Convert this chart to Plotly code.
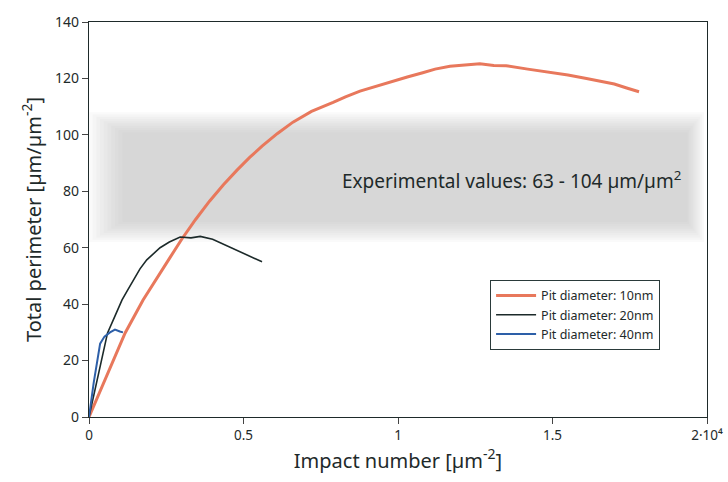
import plotly.graph_objects as go

# Data
x_10nm = [0, 0.06, 0.117, 0.175, 0.22, 0.262, 0.30, 0.345, 0.39, 0.435, 0.479, 0.52, 0.56, 0.61, 0.66, 0.72,
          0.79, 0.83, 0.877, 0.93, 0.984, 1.03, 1.08, 1.12, 1.168, 1.22, 1.265, 1.31, 1.35, 1.42, 1.49, 1.55,
          1.61, 1.66, 1.7, 1.74, 1.78]
y_10nm = [0, 15.5, 29.8, 41.5, 49.5, 56.5, 63, 70, 76.5, 82.3, 87.5, 92, 96, 100.5, 104.5, 108.3, 111.5, 113.5,
          115.5, 117.3, 119, 120.5, 122, 123.3, 124.3, 124.7, 125.2, 124.6, 124.5, 123.3, 122.3, 121.2, 120,
          119, 118, 116.6, 115.3]

x_20nm = [0, 0.03, 0.06, 0.085, 0.107, 0.125, 0.143, 0.165, 0.187, 0.21, 0.23, 0.26, 0.295, 0.33, 0.36,
          0.4, 0.43, 0.46, 0.5, 0.53, 0.56]
y_20nm = [0, 15, 29.8, 36, 41.5, 45, 48.6, 52.5, 55.7, 58, 60, 62, 63.8, 63.5, 64, 63, 61.5, 60, 58, 56.5, 55]

x_40nm = [0, 0.015, 0.036, 0.05, 0.068, 0.084, 0.1, 0.11]
y_40nm = [0, 12, 26, 28.5, 30, 31, 30.3, 30]

x_tickvals = [0, 0.5, 1, 1.5, 2]
x_ticktext = ["0", "0.5", "1", "1.5", "2·10⁴"]
y_tickvals = [0, 20, 40, 60, 80, 100, 120, 140]

band_low, band_high = 66, 104
band_label = "Experimental values: 63 - 104 µm/µm<sup>2</sup>"

FONT = "Noto Sans"
fig = go.Figure()

# soft grey band (many faint stacked rects for a blurred look)
n = 10
for i in range(n):
    d = 4 - i * 0.8
    fig.add_shape(type="rect", xref="x", yref="y",
                  x0=0.0 + i * 0.012, x1=1.99 - i * 0.006,
                  y0=band_low - d, y1=band_high + d,
                  fillcolor="#b8b8b8", opacity=0.07, line_width=0, layer="below")

fig.add_trace(go.Scatter(x=x_10nm, y=y_10nm, mode="lines", name="Pit diameter: 10nm",
                         line=dict(color="#e8785c", width=3)))
fig.add_trace(go.Scatter(x=x_20nm, y=y_20nm, mode="lines", name="Pit diameter: 20nm",
                         line=dict(color="#1c2a2a", width=1.6)))
fig.add_trace(go.Scatter(x=x_40nm, y=y_40nm, mode="lines", name="Pit diameter: 40nm",
                         line=dict(color="#2d5fa8", width=2)))

fig.add_annotation(x=1.366, y=84, xref="x", yref="y", text=band_label, showarrow=False,
                   font=dict(family=FONT, size=19, color="#1e2a2a"))

fig.update_layout(
    width=728, height=482,
    margin=dict(l=89, r=21, t=22, b=65, autoexpand=False),
    paper_bgcolor="white", plot_bgcolor="white",
    font=dict(family=FONT, color="#1e2a2a"),
    showlegend=True,
    legend=dict(x=0.649, y=0.347, xanchor="left", yanchor="top",
                bordercolor="#2a3a3a", borderwidth=1, bgcolor="white",
                font=dict(family=FONT, size=12.5), tracegroupgap=2, itemwidth=40),
    xaxis=dict(range=[0, 2], tickvals=x_tickvals, ticktext=x_ticktext, ticks="outside", ticklen=6,
               showgrid=False, zeroline=False, showline=True, linecolor="#1e2a2a", linewidth=1.3,
               mirror=True, tickfont=dict(size=13.5), automargin=False,
               title=dict(text="Impact number [µm<sup>-2</sup>]", font=dict(size=20), standoff=8)),
    yaxis=dict(range=[0, 140], tickvals=y_tickvals, ticks="outside", ticklen=6,
               showgrid=False, zeroline=False, showline=True, linecolor="#1e2a2a", linewidth=1.3,
               mirror=True, tickfont=dict(size=14), automargin=False,
               title=dict(text="Total perimeter [µm/µm<sup>-2</sup>]", font=dict(size=20), standoff=8)),
)

fig.write_html("out.html", config={"displayModeBar": False},
               post_script="document.body.style.margin='0';document.body.style.overflow='hidden';")
